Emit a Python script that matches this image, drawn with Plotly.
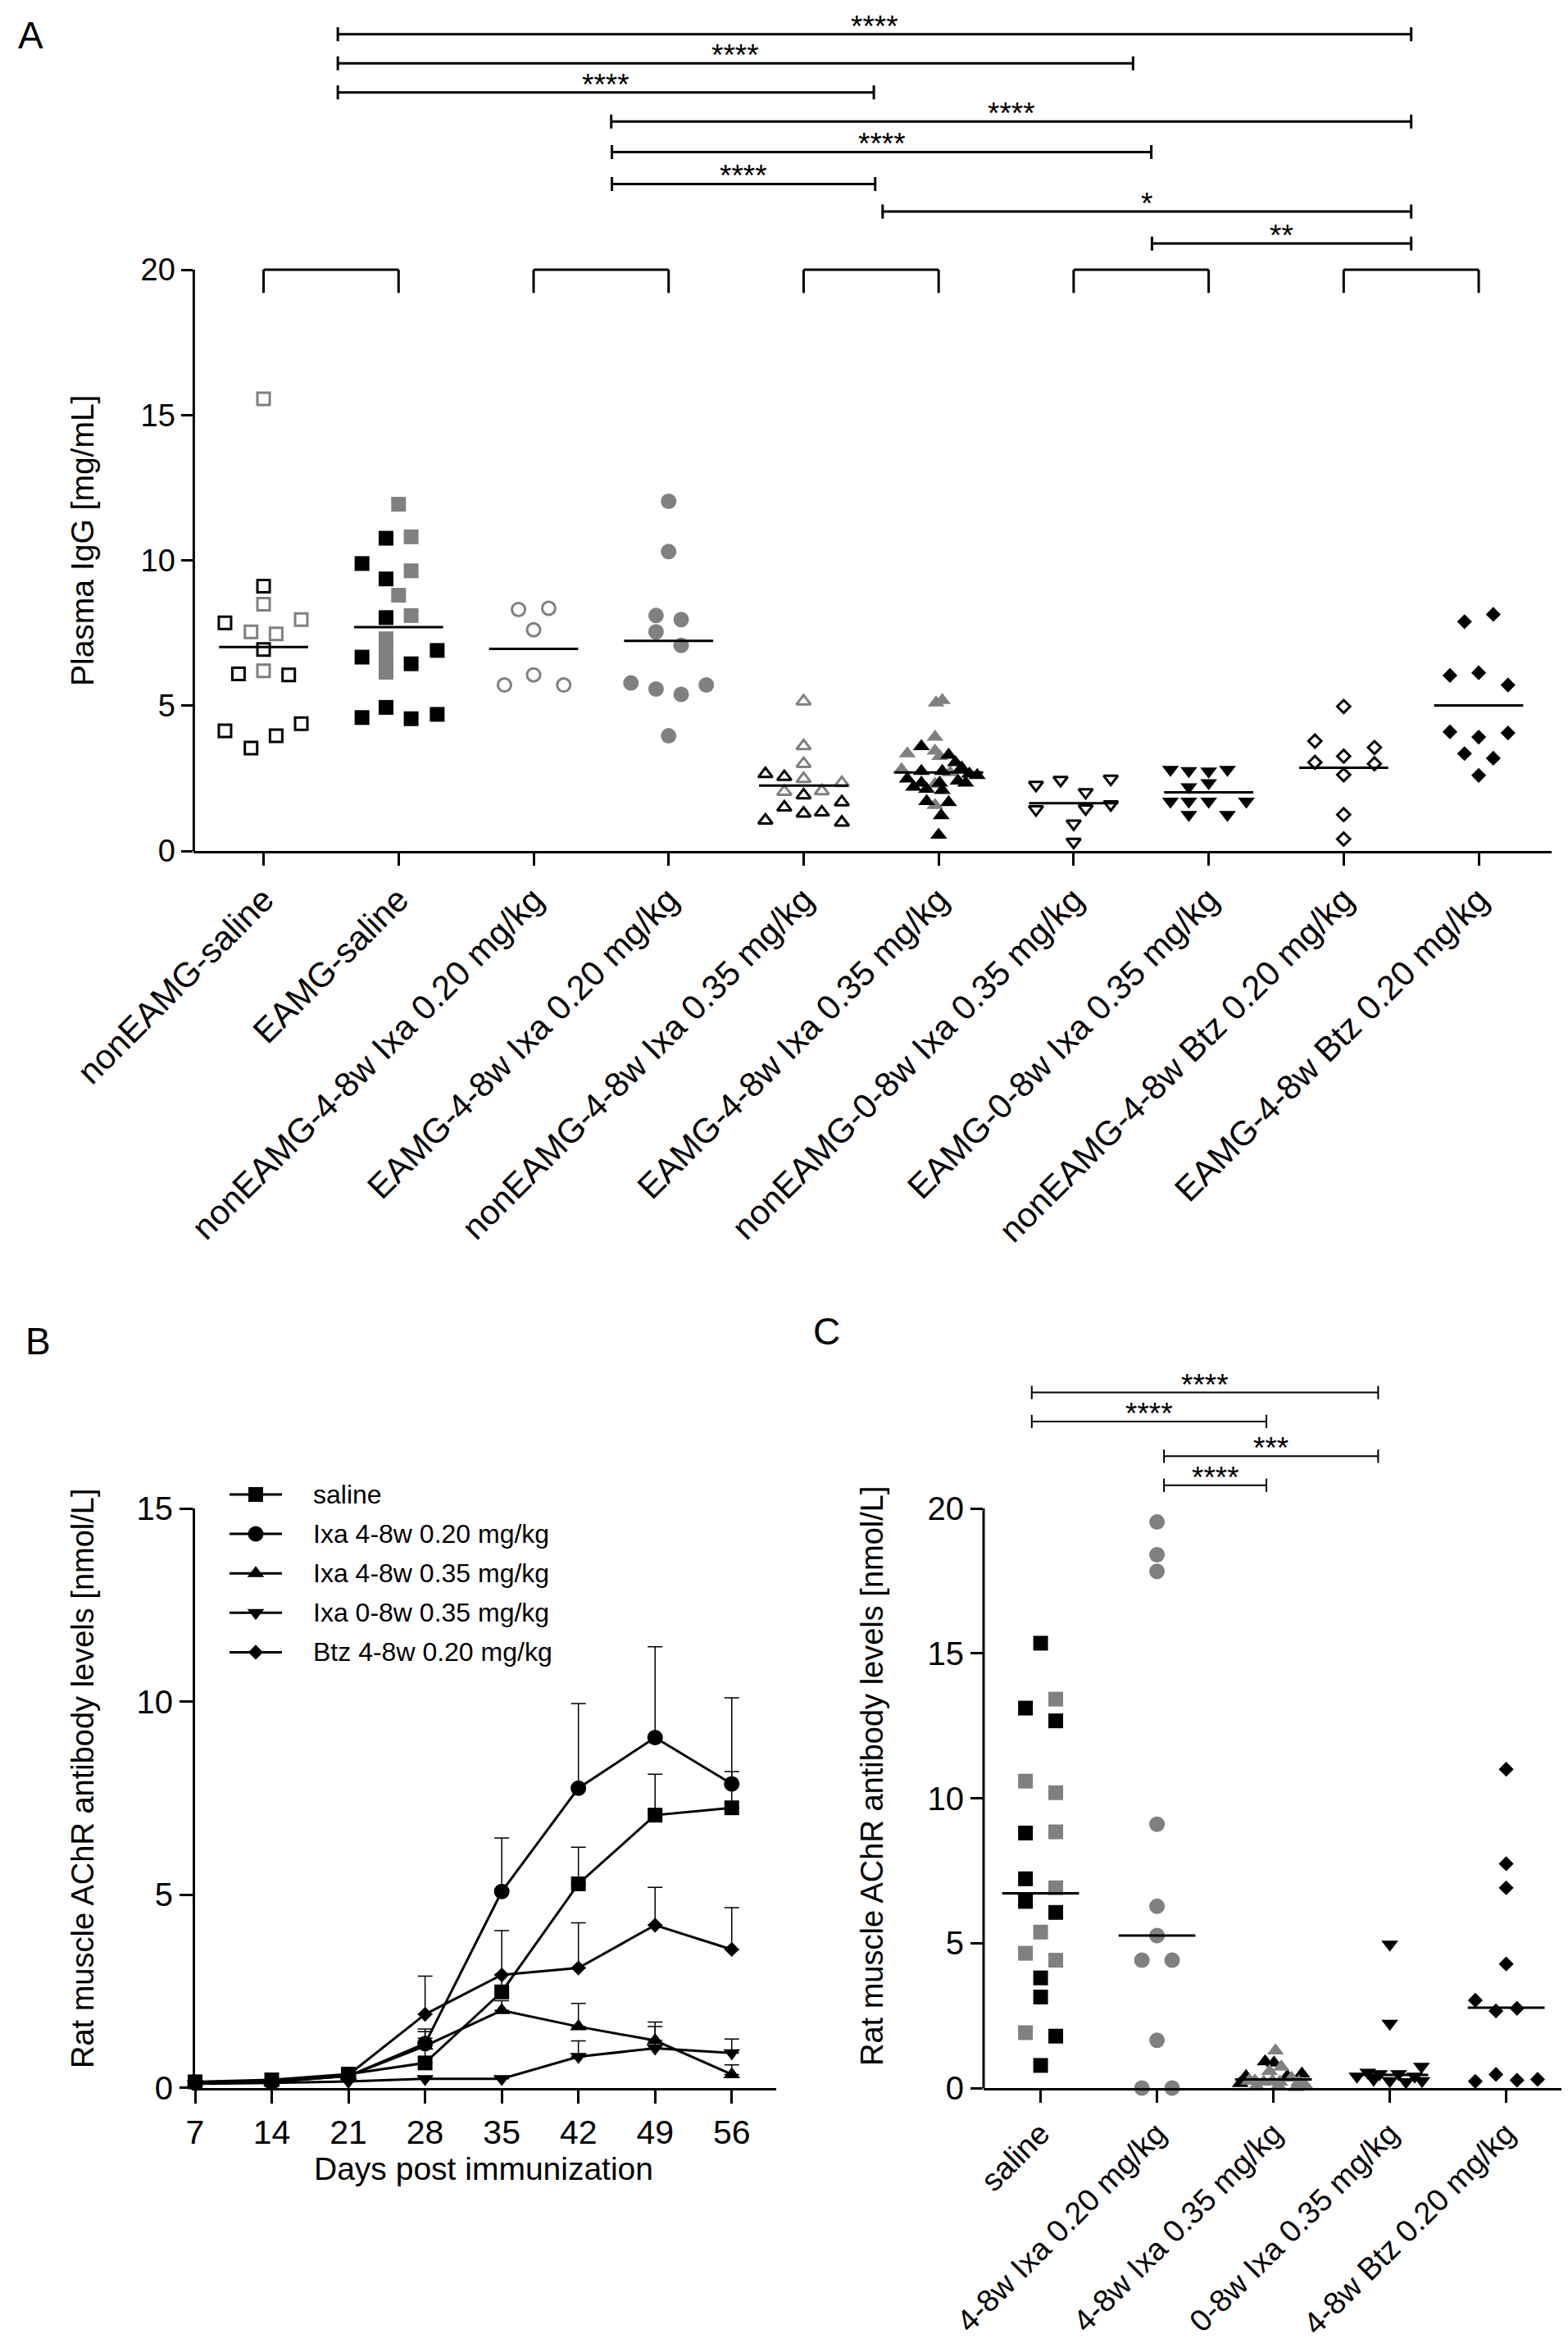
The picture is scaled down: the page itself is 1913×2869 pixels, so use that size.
import plotly.graph_objects as go

W, H = 1913, 2869
FONT = "Liberation Sans, Arial, Helvetica, sans-serif"
BLACK = "#000000"
GREY = "#808080"
SHADE = {"k": BLACK, "g": GREY}

# ---------------- panel A: plasma IgG [mg/mL] ----------------
a_groups = ["nonEAMG-saline", "EAMG-saline",
            "nonEAMG-4-8w Ixa 0.20 mg/kg", "EAMG-4-8w Ixa 0.20 mg/kg",
            "nonEAMG-4-8w Ixa 0.35 mg/kg", "EAMG-4-8w Ixa 0.35 mg/kg",
            "nonEAMG-0-8w Ixa 0.35 mg/kg", "EAMG-0-8w Ixa 0.35 mg/kg",
            "nonEAMG-4-8w Btz 0.20 mg/kg", "EAMG-4-8w Btz 0.20 mg/kg"]
a_symbols = ["square-open", "square", "circle-open", "circle",
             "triangle-up-open", "triangle-up", "triangle-down-open", "triangle-down",
             "diamond-open", "diamond"]
a_vals = [
    [15.56, 9.11, 8.49, 7.85, 7.96, 7.54, 7.47, 6.93, 6.09, 6.2, 6.06, 4.13, 3.54, 3.96, 4.38],
    [11.93, 10.76, 10.81, 9.89, 9.36, 9.64, 8.8, 8.03, 8.1, 7.3, 6.9, 6.5, 6.15, 6.67, 6.44,
     6.9, 4.59, 4.94, 4.55, 4.7],
    [8.31, 8.35, 7.61, 6.06, 5.71, 5.71],
    [12.03, 10.3, 8.1, 7.96, 7.54, 7.07, 5.78, 5.57, 5.39, 5.71, 3.96],
    [5.15, 3.61, 3.0, 2.48, 2.04, 2.06, 2.34, 2.65, 2.55, 1.92, 1.5, 1.29, 1.33, 1.68, 1.05, 0.98],
    [5.1, 5.18, 3.92, 3.35, 3.44, 3.26, 2.8, 2.7, 1.57, 2.3,
     3.6, 3.3, 3.05, 2.86, 2.65, 2.6, 2.74, 2.74, 2.48, 2.34, 2.34, 2.41, 2.34, 2.2, 2.13,
     2.09, 1.71, 1.67, 1.22, 0.55],
    [2.27, 2.44, 2.48, 2.02, 1.43, 1.46, 1.6, 0.94, 0.31],
    [2.8, 2.76, 2.74, 2.8, 2.2, 2.34, 1.71, 1.71, 1.71, 1.71, 1.25, 1.25],
    [4.97, 3.78, 3.56, 3.05, 3.26, 3.0, 2.62, 1.25, 0.41],
    [8.14, 7.89, 6.04, 6.13, 5.71, 4.1, 3.92, 4.06, 3.35, 3.19, 2.6],
]
# horizontal scatter of each point around its group, in group widths
a_jitter = [
    [0, 0, 0, -0.286, 0.279, -0.093, 0.093, 0, -0.186, 0, 0.186, -0.286, -0.093, 0.093, 0.279],
    [0, -0.093, 0.093, -0.271, -0.093, 0.093, 0, -0.093, 0.093, -0.093, -0.093, -0.093, -0.093,
     -0.271, 0.093, 0.286, -0.271, -0.093, 0.093, 0.286],
    [-0.112, 0.112, 0, 0, -0.216, 0.223],
    [0, 0, -0.093, 0.093, -0.093, 0.093, -0.279, -0.093, 0.093, 0.279, 0],
    [0, 0, 0, 0, -0.143, 0.135, 0.283, -0.283, -0.143, 0, -0.143, 0, 0.135, 0.283, -0.283, 0.283],
    [-0.019, 0.027, -0.027, -0.232, -0.027, 0.008, -0.275, 0.085, -0.027, -0.027,
     -0.128, 0.074, 0.124, 0.17, 0.228, 0.286, -0.128, 0.027, -0.232, -0.128, 0.008, 0.143,
     0.2, -0.186, -0.089, 0.027, -0.089, 0.074, 0.019, 0],
    [-0.279, -0.097, 0.275, 0.089, -0.279, 0.089, 0.275, 0, 0],
    [-0.283, -0.147, 0, 0.139, -0.147, 0, -0.283, -0.147, 0, 0.279, -0.147, 0.139],
    [0, -0.213, 0.228, -0.213, 0, 0.228, 0, 0, 0],
    [0.108, -0.105, -0.213, 0, 0.217, -0.213, 0, 0.217, -0.105, 0.108, 0],
]
a_shade = ["gkgkgggkkgkkkkk", "gkgkkggkgggggkkkkkkk", "gggggg", "ggggggggggg",
           "gggggggkkkkkkkkk", "g" * 10 + "k" * 20, "k" * 9, "k" * 12, "k" * 9, "k" * 11]
a_median = [7.02, 7.7, 6.95, 7.23, 2.25, 2.7, 1.64, 2.02, 2.86, 5.01]

# comparisons between brackets (bracket k joins groups 2k and 2k+1)
a_cmp_from = [0, 0, 0, 1, 1, 1, 2, 3]
a_cmp_to = [4, 3, 2, 4, 3, 2, 4, 4]
a_cmp_label = ["****", "****", "****", "****", "****", "****", "*", "**"]
a_cmp_level = [28.1, 27.1, 26.1, 25.1, 24.05, 22.95, 22.0, 20.9]
a_cmp_nudge0 = [0.05, 0.05, 0.05, 0.075, 0.08, 0.08, 0.085, 0.08]
a_cmp_nudge1 = [0, -0.06, 0.02, 0, 0.075, 0.03, 0, 0]

# ---------------- panel B: AChR antibody over time ----------------
days = [7, 14, 21, 28, 35, 42, 49, 56]
b_names = ["saline", "Ixa 4-8w 0.20 mg/kg", "Ixa 4-8w 0.35 mg/kg",
           "Ixa 0-8w 0.35 mg/kg", "Btz 4-8w 0.20 mg/kg"]
b_symbols = ["square", "circle", "triangle-up", "triangle-down", "diamond"]
b_mean = [
    [0.15, 0.2, 0.35, 0.64, 2.48, 5.28, 7.06, 7.25],
    [0.12, 0.15, 0.3, 1.14, 5.08, 7.76, 9.07, 7.87],
    [0.12, 0.15, 0.3, 1.08, 2.0, 1.58, 1.22, 0.34],
    [0.1, 0.12, 0.16, 0.23, 0.23, 0.8, 1.02, 0.9],
    [0.12, 0.15, 0.33, 1.9, 2.92, 3.1, 4.21, 3.58],
]
b_err = [
    [0, 0, 0, 0.88, 0.45, 0.95, 1.06, 0.94],
    [0, 0, 0, 0.31, 1.39, 2.19, 2.35, 2.23],
    [0, 0, 0, 0.2, 0.25, 0.6, 0.48, 0.25],
    [0, 0, 0, 0.05, 0.05, 0.41, 0.56, 0.36],
    [0, 0, 0, 0.99, 1.15, 1.17, 0.98, 1.08],
]

# ---------------- panel C: AChR antibody per group ----------------
c_groups = ["saline", "4-8w Ixa 0.20 mg/kg", "4-8w Ixa 0.35 mg/kg",
            "0-8w Ixa 0.35 mg/kg", "4-8w Btz 0.20 mg/kg"]
c_symbols = ["square", "circle", "triangle-up", "triangle-down", "diamond"]
c_vals = [
    [15.35, 13.11, 12.67, 8.8, 7.22, 6.44, 6.06, 3.8, 3.14, 1.79, 0.78,
     13.42, 10.59, 10.19, 8.84, 6.91, 5.38, 4.65, 4.41, 1.91],
    [19.53, 18.4, 17.83, 9.1, 6.27, 5.26, 4.41, 4.41, 1.65, 0, 0],
    [0.91, 0.87, 0.4, 0.16, 0.49, 0.4,
     1.29, 0.73, 0.58, 0.25, 0.21, 0.25, 0.21, 0.35, 0.21, 0.11, 0.07, 0.07, 0.02, 0.25],
    [4.96, 2.23, 0.74, 0.4, 0.54, 0.49, 0.25, 0.49, 0.21, 0.4, 0.25, 0.3],
    [11.0, 7.74, 6.91, 4.28, 3.03, 2.66, 2.75, 0.47, 0.23, 0.27, 0.3],
]
c_jitter = [
    [0, -0.13, 0.13, -0.13, -0.13, -0.13, 0.13, 0, 0, 0.13, 0,
     0.13, -0.13, 0.13, 0.13, 0.13, 0, -0.13, 0.13, -0.13],
    [0, 0, 0, 0, 0, 0, -0.13, 0.13, 0, -0.13, 0.13],
    [-0.071, 0.005, -0.235, -0.285, 0.245, 0.119,
     0.018, 0.068, -0.033, -0.159, -0.083, -0.008, 0.055, 0.156, 0.219, 0.27, -0.146,
     0.043, 0.194, -0.209],
    [0, 0, 0.272, -0.282, -0.189, -0.088, 0, 0.076, 0.139, 0.214, 0.277, -0.139],
    [0, 0, 0, 0, -0.265, -0.088, 0.093, -0.088, -0.265, 0.093, 0.27],
]
c_shade = ["k" * 11 + "g" * 9, "g" * 11, "k" * 6 + "g" * 14, "k" * 12, "k" * 11]
c_median = [6.72, 5.26, 0.3, 0.45, 2.77]

c_cmp_from = [0, 0, 1, 1]
c_cmp_to = [3, 2, 3, 2]
c_cmp_label = ["****", "****", "***", "****"]
c_cmp_level = [24.0, 23.0, 21.8, 20.8]
c_cmp_nudge0 = [-0.076, -0.076, 0.06, 0.06]
c_cmp_nudge1 = [-0.1, -0.06, -0.1, -0.06]


def px_x(p):
    return p / W


def px_y(p):
    return 1 - p / H


# plot-area geometry in figure pixels
A_L, A_R, A_BOT, A_TOP = 228.4, 1885, 1030, 9
A_UNIT = 35.45
A_XR = [-0.517, 9.54]
A_YR = [0, (A_BOT - A_TOP) / A_UNIT]

B_L, B_R, B_BOT, B_TOP = 230, 939, 2538.5, 1832.3
B_XR = [7, 60.06]
B_YR = [0, 15]

C_L, C_R, C_BOT, C_TOP = 1192, 1902, 2539, 1640
C_UNIT = 35.35
C_XR = [-0.49, 4.51]
C_YR = [0, (C_BOT - C_TOP) / C_UNIT]

MSIZE = {"square": 18, "square-open": 15, "circle": 19, "circle-open": 16,
         "triangle-up": 18, "triangle-up-open": 15, "triangle-down": 18,
         "triangle-down-open": 15, "diamond": 14, "diamond-open": 12}

fig = go.Figure()


def dot_groups(vals, jitter, shade, symbols, medians, xa, ya, half):
    for i in range(len(vals)):
        cols = [SHADE[c] for c in shade[i]]
        sym = symbols[i]
        is_open = sym.endswith("-open")
        fig.add_trace(go.Scatter(
            x=[i + j for j in jitter[i]], y=vals[i], mode="markers",
            xaxis=xa, yaxis=ya, showlegend=False, cliponaxis=False,
            marker=dict(symbol=sym, size=MSIZE[sym], color=cols,
                        line=dict(color=cols, width=3 if is_open else 0))))
    mx, my = [], []
    for i, m in enumerate(medians):
        mx += [i - half, i + half, None]
        my += [m, m, None]
    fig.add_trace(go.Scatter(x=mx, y=my, mode="lines", xaxis=xa, yaxis=ya,
                             showlegend=False, line=dict(color=BLACK, width=3)))


dot_groups(a_vals, a_jitter, a_shade, a_symbols, a_median, "x", "y", 0.33)
dot_groups(c_vals, c_jitter, c_shade, c_symbols, c_median, "x3", "y3", 0.33)

for k in range(len(b_names)):
    fig.add_trace(go.Scatter(
        x=days, y=b_mean[k], mode="lines+markers", xaxis="x2", yaxis="y2",
        showlegend=False, cliponaxis=False,
        line=dict(color=BLACK, width=3),
        marker=dict(symbol=b_symbols[k], size=MSIZE[b_symbols[k]], color=BLACK),
        error_y=dict(type="data", symmetric=False, array=b_err[k],
                     arrayminus=[0] * len(days), color=BLACK, thickness=1.5, width=9)))

# legend of panel B, drawn on a hidden full-figure axis in pixel units
LEG_X0, LEG_X1, LEG_TX, LEG_Y0, LEG_DY = 272, 336, 372, 1815, 48.1
for k, name in enumerate(b_names):
    ly = LEG_Y0 + k * LEG_DY
    fig.add_trace(go.Scatter(x=[LEG_X0, LEG_X1], y=[ly, ly], mode="lines", xaxis="x4",
                             yaxis="y4", showlegend=False, line=dict(color=BLACK, width=3)))
    fig.add_trace(go.Scatter(x=[(LEG_X0 + LEG_X1) / 2], y=[ly], mode="markers", xaxis="x4",
                             yaxis="y4", showlegend=False,
                             marker=dict(symbol=b_symbols[k], size=MSIZE[b_symbols[k]],
                                         color=BLACK)))
    fig.add_annotation(x=LEG_TX, y=ly, xref="x4", yref="y4", text=name, showarrow=False,
                       xanchor="left", yanchor="middle", font=dict(size=32))

shapes = []
annotations = []


def line(xref, yref, x0, y0, x1, y1, w):
    shapes.append(dict(type="line", xref=xref, yref=yref, x0=x0, y0=y0, x1=x1, y1=y1,
                       line=dict(color=BLACK, width=w)))


def comparisons(frm, to, labels, levels, n0, n1, center, xref, yref, cap, w, fsize):
    for i in range(len(frm)):
        x0 = center(frm[i]) + n0[i]
        x1 = center(to[i]) + n1[i]
        y = levels[i]
        line(xref, yref, x0, y, x1, y, w)
        line(xref, yref, x0, y - cap, x0, y + cap, w)
        line(xref, yref, x1, y - cap, x1, y + cap, w)
        annotations.append(dict(x=(x0 + x1) / 2, y=y, xref=xref, yref=yref, text=labels[i],
                                showarrow=False, yanchor="bottom", yshift=-13,
                                font=dict(size=fsize)))


# panel A brackets joining non-EAMG / EAMG pairs
for k in range(len(a_groups) // 2):
    line("x", "y", 2 * k, 20, 2 * k + 1, 20, 3)
    line("x", "y", 2 * k, 19.2, 2 * k, 20, 3)
    line("x", "y", 2 * k + 1, 19.2, 2 * k + 1, 20, 3)
comparisons(a_cmp_from, a_cmp_to, a_cmp_label, a_cmp_level, a_cmp_nudge0, a_cmp_nudge1,
            lambda p: 2 * p + 0.5, "x", "y", 0.24, 3, 37)
comparisons(c_cmp_from, c_cmp_to, c_cmp_label, c_cmp_level, c_cmp_nudge0, c_cmp_nudge1,
            lambda p: p, "x3", "y3", 0.23, 2, 37)

# y-axis lines of A and C stop at 20
line("x domain", "y domain", 0, 0, 0, 20 / A_YR[1], 3)
line("x3 domain", "y3 domain", 0, 0, 0, 20 / C_YR[1], 3)


def text(px, py, s, size, angle=0):
    annotations.append(dict(x=px_x(px), y=px_y(py), xref="paper", yref="paper", text=s,
                            showarrow=False, textangle=angle, font=dict(size=size),
                            xanchor="center", yanchor="middle"))


text(30, 35, "A", 46)
text(38, 1628, "B", 46)
text(1000, 1616, "C", 46)
text(92, 652, "Plasma IgG [mg/mL]", 39, -90)
text(93, 2161, "Rat muscle AChR antibody levels [nmol/L]", 38, -90)
text(1056, 2158, "Rat muscle AChR antibody levels [nmol/L]", 38, -90)
text(582, 2637, "Days post immunization", 39)

axis_style = dict(showgrid=False, zeroline=False, ticks="outside", tickwidth=3,
                  tickcolor=BLACK, linecolor=BLACK, linewidth=3, automargin=False)

fig.update_layout(
    width=W, height=H, margin=dict(l=0, r=0, t=0, b=0, pad=0, autoexpand=False),
    paper_bgcolor="white", plot_bgcolor="rgba(0,0,0,0)",
    font=dict(family=FONT, color=BLACK, size=38),
    showlegend=False,
    xaxis=dict(domain=[px_x(A_L), px_x(A_R)], range=A_XR, anchor="y",
               tickvals=list(range(len(a_groups))), ticktext=a_groups, tickangle=-45,
               ticklen=15, showline=True, tickfont=dict(size=42), **axis_style),
    yaxis=dict(domain=[px_y(A_BOT), px_y(A_TOP)], range=A_YR, anchor="x",
               tickvals=[0, 5, 10, 15, 20], ticklen=14, showline=False,
               tickfont=dict(size=38), **axis_style),
    xaxis2=dict(domain=[px_x(B_L), px_x(B_R)], range=B_XR, anchor="y2",
                tickvals=days, ticklen=16, showline=True, tickfont=dict(size=41),
                **axis_style),
    yaxis2=dict(domain=[px_y(B_BOT), px_y(B_TOP)], range=B_YR, anchor="x2",
                tickvals=[0, 5, 10, 15], ticklen=16, showline=True,
                tickfont=dict(size=40), **axis_style),
    xaxis3=dict(domain=[px_x(C_L), px_x(C_R)], range=C_XR, anchor="y3",
                tickvals=list(range(len(c_groups))), ticktext=c_groups, tickangle=-45,
                ticklen=15, showline=True, tickfont=dict(size=38), **axis_style),
    yaxis3=dict(domain=[px_y(C_BOT), px_y(C_TOP)], range=C_YR, anchor="x3",
                tickvals=[0, 5, 10, 15, 20], ticklen=15, showline=False,
                tickfont=dict(size=40), **axis_style),
    xaxis4=dict(domain=[0, 1], range=[0, W], anchor="y4", visible=False),
    yaxis4=dict(domain=[0, 1], range=[H, 0], anchor="x4", visible=False),
    shapes=shapes,
)
for a in annotations:
    fig.add_annotation(**a)

fig.write_html("out.html")
